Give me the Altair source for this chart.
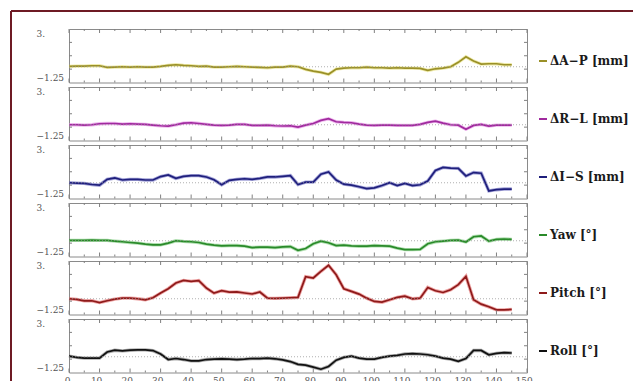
import altair as alt
import pandas as pd

# ---------------- data ----------------
x_vals = [0, 2.5, 5, 7.5, 10, 12.5, 15, 17.5, 20, 22.5, 25, 27.5, 30, 32.5, 35, 37.5,
          40, 42.5, 45, 47.5, 50, 52.5, 55, 57.5, 60, 62.5, 65, 67.5, 70, 72.5, 75,
          77.5, 80, 82.5, 85, 87.5, 90, 92.5, 95, 97.5, 100, 102.5, 105, 107.5, 110,
          112.5, 115, 117.5, 120, 122.5, 125, 127.5, 130, 132.5, 135, 137.5, 140,
          142.5, 145]

ap = [0.03, 0.05, 0.05, 0.08, 0.08, -0.05, -0.03, 0.0, -0.03, 0.0, -0.03, -0.03, 0.03,
      0.11, 0.16, 0.11, 0.08, 0.03, 0.05, -0.03, -0.03, 0.0, 0.03, 0.0, -0.03, -0.05,
      -0.08, -0.03, -0.03, 0.05, 0.0, -0.21, -0.35, -0.45, -0.6, -0.19, -0.11, -0.08,
      -0.08, -0.03, -0.08, -0.08, -0.11, -0.08, -0.11, -0.11, -0.13, -0.29, -0.16,
      -0.11, 0.0, 0.35, 0.8, 0.45, 0.21, 0.24, 0.24, 0.16, 0.16]

rl = [0.0, 0.0, -0.03, 0.0, 0.08, 0.1, 0.1, 0.05, 0.08, 0.05, 0.03, -0.03, -0.08, -0.1,
      0.0, 0.13, 0.16, 0.1, 0.03, -0.03, -0.05, -0.03, 0.03, 0.03, -0.05, -0.05, -0.03,
      -0.08, -0.1, -0.08, -0.19, -0.03, 0.1, 0.35, 0.48, 0.24, 0.19, 0.16, 0.05, -0.03,
      -0.05, -0.03, -0.03, -0.05, -0.05, -0.05, 0.03, 0.19, 0.29, 0.13, 0.0, -0.03,
      -0.35, -0.05, 0.03, -0.1, -0.03, -0.03, -0.03]

isv = [0.0, -0.03, -0.05, -0.14, -0.19, 0.27, 0.38, 0.22, 0.27, 0.27, 0.22, 0.22, 0.49,
       0.62, 0.35, 0.51, 0.57, 0.57, 0.46, 0.24, -0.16, 0.19, 0.27, 0.32, 0.27, 0.35,
       0.46, 0.46, 0.51, 0.57, -0.14, 0.05, 0.05, 0.68, 0.86, 0.22, -0.11, -0.19, -0.32,
       -0.46, -0.41, -0.22, 0.0, -0.22, -0.05, -0.22, -0.16, 0.14, 0.97, 1.22, 1.16,
       1.14, 0.54, 0.81, 0.76, -0.65, -0.55, -0.5, -0.5]

yaw = [0.03, 0.03, 0.03, 0.05, 0.03, 0.03, -0.03, -0.08, -0.14, -0.19, -0.27, -0.32,
       -0.32, -0.19, 0.0, -0.05, -0.08, -0.14, -0.27, -0.35, -0.4, -0.38, -0.38, -0.43,
       -0.54, -0.51, -0.51, -0.54, -0.49, -0.46, -0.76, -0.62, -0.24, -0.03, -0.16,
       -0.38, -0.35, -0.41, -0.43, -0.43, -0.38, -0.41, -0.43, -0.59, -0.7, -0.7, -0.68,
       -0.24, -0.08, -0.03, 0.03, 0.05, -0.1, 0.32, 0.38, -0.03, 0.11, 0.14, 0.11]

pitch = [0.0, -0.05, -0.16, -0.16, -0.3, -0.16, -0.03, 0.05, 0.05, 0.0, -0.08, 0.08,
         0.45, 0.8, 1.25, 1.46, 1.38, 1.44, 0.85, 0.45, 0.64, 0.53, 0.54, 0.46, 0.38,
         0.54, 0.05, 0.03, 0.05, 0.08, 0.11, 1.75, 1.65, 2.18, 2.66, 1.91, 0.8, 0.59,
         0.37, 0.05, -0.21, -0.27, -0.08, 0.11, 0.21, 0.0, 0.05, 0.9, 0.64, 0.5, 0.72,
         1.12, 1.78, -0.08, -0.43, -0.64, -0.88, -0.88, -0.85]

roll = [0.05, -0.05, -0.11, -0.11, -0.11, 0.38, 0.52, 0.47, 0.52, 0.55, 0.55, 0.49,
        0.22, -0.22, -0.14, -0.22, -0.33, -0.33, -0.22, -0.19, -0.16, -0.19, -0.22,
        -0.19, -0.14, -0.14, -0.11, -0.16, -0.25, -0.38, -0.6, -0.66, -0.82, -0.99,
        -0.77, -0.27, -0.05, 0.05, -0.11, -0.19, -0.19, -0.05, 0.05, 0.11, 0.22, 0.25,
        0.22, 0.16, 0.05, -0.11, -0.19, -0.36, -0.14, 0.5, 0.5, 0.16, 0.27, 0.33, 0.3]

names = ["ΔA−P [mm]", "ΔR−L [mm]", "ΔI−S [mm]", "Yaw [°]", "Pitch [°]", "Roll [°]"]
series = [ap, rl, isv, yaw, pitch, roll]
line_colors = ["#9a9028", "#a02a9e", "#1f1f7c", "#2a8a2a", "#8e1a1a", "#111111"]
halo_colors = ["#e2da68", "#e07ae0", "#5a5ab8", "#70c470", "#e05a5a", "#666666"]

x_major = [0, 10, 20, 30, 40, 50, 60, 70, 80, 90, 100, 110, 120, 130, 140, 150]
x_minor = [5, 15, 25, 35, 45, 55, 65, 75, 85, 95, 105, 115, 125, 135, 145]
y_labels = [-1.25, 3.0]
y_minor = [-0.1875, 0.875, 1.9375]
zero_line = [0.0]

# ---------------- layout ----------------
W, H = 458, 53.5
tick_c = "#808080"
lab_font = "DejaVu Serif"

xs = alt.Scale(domain=[0, 150], nice=False, zero=False)
ys = alt.Scale(domain=[-1.25, 3.0], nice=False, zero=False)

xmaj_df = pd.DataFrame({"x": x_major})
xmin_df = pd.DataFrame({"x": x_minor})
ymin_df = pd.DataFrame({"y": y_minor})
zero_df = pd.DataFrame({"y": zero_line})

y_axis = alt.Axis(
    values=y_labels, labelExpr="datum.value == 3 ? '3.' : '−1.25'",
    ticks=False, domain=False, grid=False, labelAlign="left", labelPadding=33,
    labelFlush=True, labelOverlap=False, labelFont=lab_font, labelFontSize=9,
    labelColor="#555555", title=None)
x_axis = alt.Axis(
    values=x_major, labelExpr="datum.value == 0 ? '0' : datum.value + '.'",
    ticks=False, domain=False, grid=False, labelPadding=4, labelFlush=False,
    labelOverlap=False, labelFont=lab_font, labelFontSize=9,
    labelColor="#555555", labelOffset=-2, title=None)


def panel(i):
    last = i == len(series) - 1
    X = alt.X("x:Q", scale=xs, axis=x_axis if last else None)
    Y = alt.Y("y:Q", scale=ys, axis=y_axis)
    df = pd.DataFrame({"x": x_vals, "y": series[i]})

    halo = alt.Chart(df).mark_line(color=halo_colors[i], strokeWidth=3.4, opacity=0.55).encode(x=X, y=Y)
    line = alt.Chart(df).mark_line(color=line_colors[i], strokeWidth=1.7).encode(x=X, y=Y)
    zero = alt.Chart(zero_df).mark_rule(color="#9a9a9a", strokeWidth=0.8, strokeDash=[1, 2]).encode(
        y=Y, x=alt.value(0), x2=alt.value(W))

    def xt(d, y0, y1):
        return alt.Chart(d).mark_rule(color=tick_c, strokeWidth=1).encode(
            x=X, y=alt.value(y0), y2=alt.value(y1))

    def yt(x0, x1):
        return alt.Chart(ymin_df).mark_rule(color=tick_c, strokeWidth=1).encode(
            y=Y, x=alt.value(x0), x2=alt.value(x1))

    ticks = [xt(xmaj_df, 0, 4), xt(xmin_df, 0, 2), xt(xmaj_df, H, H - 4), xt(xmin_df, H, H - 2),
             yt(0, 3), yt(W, W - 3)]

    leg_df = pd.DataFrame({"name": [names[i]]})
    leg_line = alt.Chart(leg_df).mark_rule(color=line_colors[i], strokeWidth=2).encode(
        x=alt.value(W + 12), x2=alt.value(W + 20), y=alt.value(32), y2=alt.value(32))
    leg_text = alt.Chart(leg_df).mark_text(
        align="left", baseline="middle", font=lab_font, fontWeight="bold", fontSize=12,
        color="#1a1a1a").encode(x=alt.value(W + 23), y=alt.value(32), text="name:N")

    layers = [halo, line, zero] + ticks + [leg_line, leg_text]
    if i == 0:
        fr = "#6e1a24"
        frame_h = alt.Chart(leg_df).mark_rule(color=fr, strokeWidth=2).encode(
            x=alt.value(-58), x2=alt.value(564), y=alt.value(-18), y2=alt.value(-18))
        frame_v = alt.Chart(leg_df).mark_rule(color=fr, strokeWidth=2).encode(
            x=alt.value(-58), x2=alt.value(-58), y=alt.value(-18), y2=alt.value(352))
        layers += [frame_h, frame_v]
    return alt.layer(*layers).properties(width=W, height=H)


chart = alt.vconcat(*[panel(i) for i in range(len(series))], spacing=4, bounds="flush").properties(
    padding={"left": 1, "top": 1, "right": 0, "bottom": 0},
    background="white",
).configure_view(stroke="#8a8a8a", strokeWidth=1)

chart.save("out.html", embed_options={"renderer": "svg", "actions": False})
